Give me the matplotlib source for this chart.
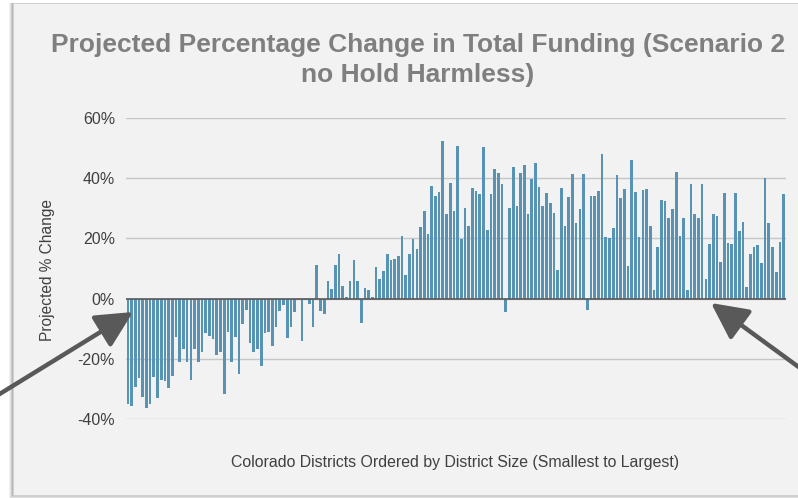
import matplotlib
matplotlib.use("Agg")
import matplotlib.pyplot as plt
from matplotlib.patches import Rectangle, FancyArrowPatch
import numpy as np

plt.rcParams['font.family'] = ['Liberation Sans', 'DejaVu Sans']

title = "Projected Percentage Change in Total Funding (Scenario 2\nno Hold Harmless)"
x_label = "Colorado Districts Ordered by District Size (Smallest to Largest)"
y_label = "Projected % Change"
y_ticks = [-40, -20, 0, 20, 40, 60]
y_tick_labels = ["-40%", "-20%", "0%", "20%", "40%", "60%"]

# Projected % change per district, smallest to largest (178 districts)
pct_change = [
    -35.1, -35.7, -29.3, -26.5, -32.7, -36.2, -34.9, -26.0, -33.1, -27.1,
    -27.3, -29.6, -25.7, -12.9, -21.2, -16.8, -21.2, -26.9, -16.8, -21.2,
    -17.9, -11.5, -12.3, -13.4, -18.7, -17.9, -31.8, -11.2, -20.9, -12.7,
    -25.1, -8.4, -3.8, -14.9, -17.6, -16.8, -22.3, -11.4, -11.0, -15.9,
    -9.6, -4.0, -2.1, -13.2, -9.6, -4.3, -0.4, -14.0, -0.4, -1.8,
    -9.6, 11.0, -4.0, -5.2, 6.0, 3.2, 11.0, 14.7, 4.3, 0.4,
    6.0, 12.7, 6.0, -8.2, 3.4, 2.9, 0.4, 10.4, 6.6, 9.1,
    14.9, 12.7, 13.0, 14.0, 20.7, 7.9, 14.9, 19.9, 16.6, 23.8,
    29.1, 21.6, 37.3, 34.0, 35.3, 52.4, 28.2, 38.4, 29.1, 50.7,
    19.9, 30.2, 24.1, 36.9, 35.6, 34.7, 50.2, 22.9, 34.7, 43.1,
    41.8, 38.2, -4.3, 30.2, 43.6, 30.7, 41.8, 44.4, 28.0, 39.6,
    44.9, 37.2, 30.7, 35.1, 31.6, 28.4, 9.6, 36.9, 24.0, 33.8,
    41.3, 25.1, 29.8, 41.3, -3.8, 34.2, 34.2, 35.6, 48.0, 20.4,
    20.0, 23.6, 40.9, 33.3, 36.4, 10.8, 45.9, 35.3, 20.4, 36.0,
    36.4, 24.0, 2.9, 17.1, 32.9, 32.4, 26.7, 29.8, 42.2, 20.9,
    26.7, 2.7, 38.2, 28.0, 26.7, 38.2, 6.4, 18.3, 28.1, 27.3,
    12.2, 35.1, 18.4, 18.0, 35.1, 22.4, 25.6, 3.8, 14.9, 17.3,
    17.8, 11.8, 40.0, 25.1, 17.1, 8.7, 18.9, 34.9,
]

W, H = 798, 498
fig = plt.figure(figsize=(W / 100, H / 100), dpi=100)
fig.patch.set_facecolor('white')

def fx(px):
    return px / W

def fy(py):
    return 1 - py / H

# panel shadow + panel
for i, a in enumerate([0.10, 0.14, 0.2, 0.28]):
    off = 4 - i
    fig.patches.append(Rectangle((fx(13 - off), fy(495 + off)), fx(800), fy(3) - fy(495 + off),
                                 transform=fig.transFigure, facecolor='#808080', alpha=a,
                                 edgecolor='none', zorder=0))
fig.patches.append(Rectangle((fx(13), fy(495)), fx(800), fy(3) - fy(495),
                             transform=fig.transFigure, facecolor='#f2f2f2',
                             edgecolor='#d0d0d0', linewidth=0.6, zorder=1))

ax = fig.add_axes([fx(126), fy(419), fx(785.5) - fx(126), fy(118) - fy(419)])
ax.set_facecolor('none')
ax.set_zorder(2)

x = np.arange(len(pct_change))
ax.bar(x, pct_change, width=0.72, color='#5893b3', zorder=3)
ax.set_xlim(-0.5, len(pct_change) - 0.5)
ax.set_ylim(-40, 60)
ax.set_yticks(y_ticks)
ax.set_yticklabels(y_tick_labels)
ax.grid(axis='y', color='#c6c6c6', linewidth=1, zorder=1)
ax.axhline(0, color='#595959', linewidth=1.2, zorder=4)
ax.set_xticks([])
for s in ax.spines.values():
    s.set_visible(False)
ax.tick_params(axis='y', length=0, pad=8, labelsize=11.5, labelcolor='#404040')

fig.text(fx(48), fy(270), y_label, rotation=90, ha='center', va='center',
         fontsize=11.2, color='#404040')
fig.text(fx(455), fy(462), x_label, ha='center', va='center',
         fontsize=11.4, color='#404040')
fig.text(fx(418), fy(60), title, ha='center', va='center', fontsize=19,
         fontweight='bold', color='#7f7f7f', linespacing=1.3)

# arrows
for (x0, y0, x1, y1) in [(-2, 395, 133, 312), (800, 368, 711, 303)]:
    arr = FancyArrowPatch((fx(x0), fy(y0)), (fx(x1), fy(y1)), transform=fig.transFigure,
                          arrowstyle='-|>,head_length=1.6,head_width=0.8',
                          mutation_scale=14, color='#595959', linewidth=3.2,
                          shrinkA=0, shrinkB=0, zorder=10)
    fig.patches.append(arr)

fig.savefig('out.png', dpi=100)
